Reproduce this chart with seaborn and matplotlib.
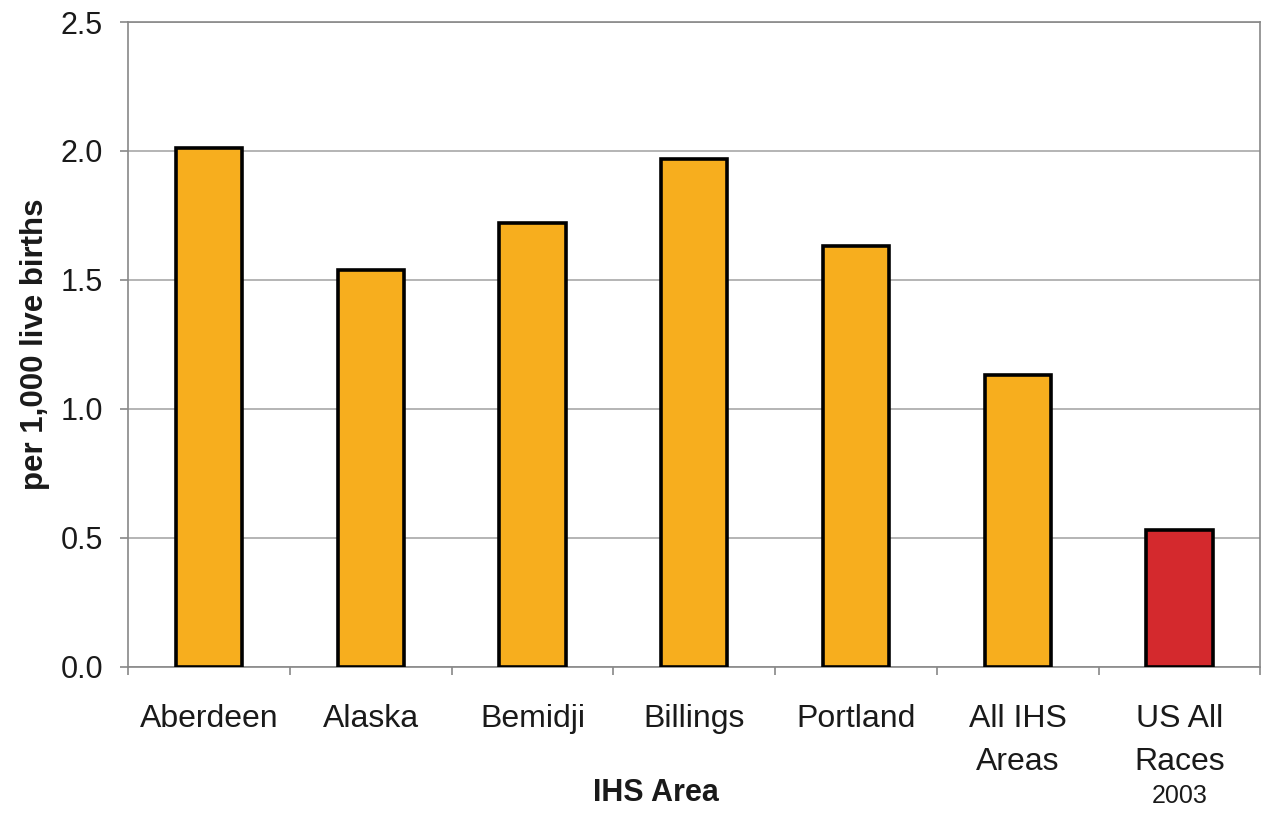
import pandas as pd
import matplotlib
matplotlib.use("Agg")
import matplotlib.pyplot as plt
import matplotlib.transforms as mtransforms
import seaborn as sns

# data
areas = ["Aberdeen", "Alaska", "Bemidji", "Billings", "Portland", "All IHS\nAreas", "US All\nRaces"]
rates = [2.01, 1.54, 1.72, 1.97, 1.63, 1.13, 0.53]
bar_colors = ["#F7AE1E"] * 6 + ["#D4292D"]
yticks = [0.0, 0.5, 1.0, 1.5, 2.0, 2.5]

df = pd.DataFrame({"area": areas, "rate": rates})

sns.set_style("white")
plt.rcParams["font.family"] = ["Liberation Sans", "DejaVu Sans"]

fig = plt.figure(figsize=(12.68, 8.15), dpi=100)
ax = fig.add_axes([0.101, 0.182, 0.893, 0.791])

sns.barplot(data=df, x="area", y="rate", hue="area", palette=bar_colors,
            legend=False, width=0.41, edgecolor="black", linewidth=2.6,
            saturation=1, ax=ax, zorder=3)

ax.set_ylim(0, 2.5)
ax.set_xlim(-0.5, len(areas) - 0.5)
ax.set_yticks(yticks)
ax.set_yticklabels([f"{v:.1f}" for v in yticks])
ax.yaxis.grid(True, color="#a8a8a8", linewidth=1.2, zorder=0)
ax.set_axisbelow(True)

# ticks sit between the categories
ax.set_xticks([i - 0.5 for i in range(len(areas) + 1)], minor=True)
ax.tick_params(axis="x", which="major", bottom=True, length=0, pad=27, labelsize=23,
               labelcolor="#1a1a1a")
ax.tick_params(axis="x", which="minor", bottom=True, length=6, color="#888888", width=1.2)
ax.tick_params(axis="y", left=True, length=6, color="#888888", width=1.2, pad=12,
               labelsize=22, labelcolor="#1a1a1a")
for lbl in ax.get_xticklabels():
    lbl.set_linespacing(1.55)

for s in ax.spines.values():
    s.set_color("#888888")
    s.set_linewidth(1.2)

ax.set_ylabel("per 1,000 live births", fontsize=22.5, fontweight="bold", color="#1a1a1a")
ax.yaxis.set_label_coords(-0.069, 0.5)
ax.set_xlabel("IHS Area", fontsize=22, fontweight="bold", color="#1a1a1a")
ax.xaxis.set_label_coords(0.466, -0.172)

trans = mtransforms.blended_transform_factory(ax.transData, ax.transAxes)
ax.text(6, -0.2, "2003", transform=trans, ha="center", va="center", fontsize=18, color="#1a1a1a")

fig.savefig("out.png", dpi=100)
